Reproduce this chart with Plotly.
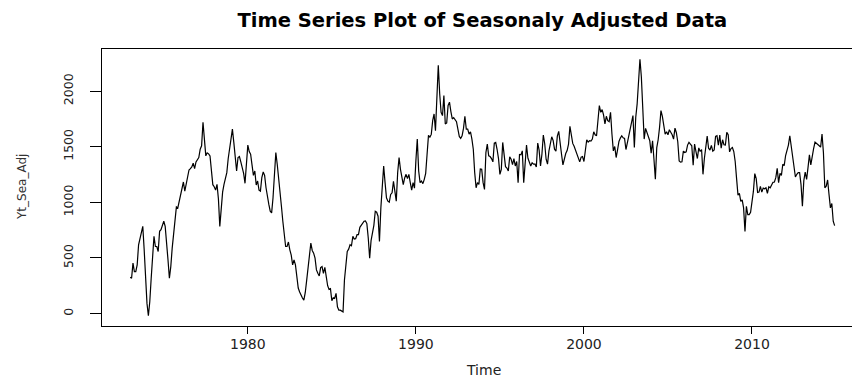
import numpy as np
import plotly.graph_objects as go

# Seasonally adjusted monthly series, Jan 1973 - Dec 2014 (one row per year)
start_year = 1973

values_1970s = [
    326, 317, 453, 377, 377, 437, 618, 679, 709, 784, 573, 332,        # 1973
    91, -20, 106, 317, 513, 694, 603, 603, 558, 739, 754, 800,         # 1974
    830, 784, 664, 483, 317, 422, 588, 694, 830, 959, 950, 1011,       # 1975
    1071, 1116, 1183, 1101, 1162, 1222, 1291, 1303, 1318, 1352, 1303, 1364,  # 1976
    1382, 1403, 1478, 1509, 1720, 1539, 1418, 1445, 1436, 1418, 1273, 1159,  # 1977
    1140, 1110, 1162, 1032, 784, 965, 1092, 1162, 1234, 1267, 1394, 1484,    # 1978
    1548, 1659, 1539, 1433, 1282, 1403, 1412, 1364, 1312, 1261, 1171, 1358,  # 1979
]

values_1980s = [
    1515, 1457, 1433, 1337, 1243, 1282, 1156, 1192, 1110, 1101, 1222, 1273,  # 1980
    1243, 1131, 1041, 981, 920, 905, 1041, 1222, 1448, 1343, 1222, 1146,     # 1981
    965, 830, 724, 603, 603, 643, 573, 525, 437, 483, 437, 296,              # 1982
    229, 193, 163, 139, 121, 187, 296, 416, 573, 634, 567, 543,              # 1983
    498, 392, 362, 338, 413, 422, 362, 416, 332, 250, 217, 223,              # 1984
    115, 142, 136, 181, 60, 30, 30, 21, 15, 302, 422, 558,                   # 1985
    579, 618, 609, 694, 670, 673, 709, 709, 775, 793, 815, 830,              # 1986
    833, 809, 679, 498, 655, 724, 793, 920, 911, 875, 649, 950,              # 1987
    1116, 1327, 1177, 1041, 1011, 1002, 1071, 1086, 1189, 1080, 1011, 1267,  # 1988
    1403, 1297, 1219, 1159, 1219, 1252, 1213, 1252, 1177, 1110, 1177, 1128,  # 1989
]

values_1990s = [
    1373, 1569, 1282, 1177, 1192, 1168, 1207, 1261, 1433, 1602, 1587, 1611,  # 1990
    1735, 1795, 1644, 1976, 2233, 1976, 1810, 1780, 1961, 1705, 1714, 1871,  # 1991
    1901, 1816, 1750, 1762, 1747, 1726, 1659, 1593, 1575, 1599, 1665, 1774,  # 1992
    1659, 1659, 1614, 1635, 1569, 1478, 1267, 1131, 1177, 1162, 1300, 1297,  # 1993
    1177, 1116, 1448, 1524, 1418, 1412, 1394, 1364, 1533, 1539, 1475, 1394,  # 1994
    1252, 1297, 1539, 1448, 1321, 1309, 1282, 1409, 1388, 1340, 1394, 1327,  # 1995
    1367, 1177, 1430, 1427, 1463, 1177, 1340, 1515, 1397, 1352, 1327, 1355,  # 1996
    1343, 1346, 1318, 1533, 1469, 1327, 1433, 1605, 1527, 1388, 1343, 1460,  # 1997
    1545, 1590, 1557, 1478, 1460, 1596, 1638, 1502, 1433, 1337, 1400, 1439,  # 1998
    1466, 1524, 1683, 1587, 1530, 1505, 1472, 1421, 1388, 1364, 1406, 1412,  # 1999
]

values_2000s = [
    1367, 1487, 1563, 1542, 1554, 1551, 1569, 1635, 1608, 1599, 1711, 1871,  # 2000
    1810, 1834, 1786, 1705, 1774, 1735, 1726, 1810, 1614, 1463, 1502, 1403,  # 2001
    1472, 1548, 1578, 1599, 1581, 1575, 1475, 1530, 1593, 1644, 1705, 1780,  # 2002
    1493, 1765, 1886, 2052, 2287, 2127, 1901, 1569, 1665, 1623, 1593, 1554,  # 2003
    1442, 1554, 1388, 1207, 1493, 1563, 1674, 1825, 1774, 1690, 1614, 1635,  # 2004
    1608, 1653, 1629, 1608, 1569, 1668, 1626, 1545, 1373, 1361, 1364, 1460,  # 2005
    1448, 1454, 1515, 1539, 1524, 1509, 1334, 1524, 1457, 1394, 1490, 1457,  # 2006
    1475, 1252, 1394, 1524, 1596, 1487, 1469, 1512, 1460, 1472, 1593, 1599,  # 2007
    1515, 1605, 1487, 1563, 1518, 1515, 1629, 1608, 1454, 1484, 1493, 1457,  # 2008
    1367, 1213, 1065, 1080, 1008, 1023, 950, 739, 965, 890, 890, 911,        # 2009
]

values_2010s = [
    1008, 1098, 1258, 1213, 1089, 1092, 1143, 1092, 1128, 1122, 1131, 1080,  # 2010
    1140, 1131, 1156, 1180, 1183, 1222, 1306, 1177, 1261, 1243, 1343, 1330,  # 2011
    1421, 1460, 1515, 1599, 1509, 1427, 1343, 1228, 1252, 1267, 1267, 1162,  # 2012
    965, 1195, 1273, 1207, 1312, 1427, 1337, 1430, 1484, 1542, 1533, 1521,   # 2013
    1509, 1496, 1614, 1448, 1131, 1146, 1201, 1071, 950, 990, 830, 790,      # 2014
]

x_ticks = [1980, 1990, 2000, 2010]
y_ticks = [0, 500, 1000, 1500, 2000]

values = np.array(values_1970s + values_1980s + values_1990s + values_2000s + values_2010s, dtype=float)
time = start_year + np.arange(len(values)) / 12.0

W, H = 852, 379
L, R, T, B = 102, 0, 49, 53

fig = go.Figure(
    go.Scatter(
        x=time, y=values, mode="lines",
        line=dict(color="black", width=1.2),
        hoverinfo="skip", showlegend=False,
    )
)

# Axis ranges padded 4% beyond the data, as R does
span_x = time[-1] - time[0]
x_lo = time[0] - 0.04 * span_x
x_hi_full = time[-1] + 0.04 * span_x
plot_w_full = 862.8 - L  # full plot width; right part falls outside the page
x_hi = x_lo + (x_hi_full - x_lo) * (W - L - R) / plot_w_full
span_y = values.max() - values.min()
y_lo = values.min() - 0.04 * span_y
y_hi = values.max() + 0.04 * span_y

fig.update_layout(
    width=W, height=H,
    margin=dict(l=L, r=R, t=T, b=B, pad=0),
    paper_bgcolor="white", plot_bgcolor="white",
    title=dict(
        text="<b>Time Series Plot of Seasonaly Adjusted Data</b>",
        x=482.3 / W, xanchor="center", xref="container",
        y=1 - 20 / H, yanchor="middle", yref="container",
        font=dict(family="DejaVu Sans", size=19.5, color="black"),
    ),
    xaxis=dict(
        range=[x_lo, x_hi],
        tickvals=x_ticks, ticktext=[str(v) for v in x_ticks],
        ticks="outside", ticklen=7, tickwidth=1, tickcolor="black",
        ticklabelstandoff=-2,
        showline=True, mirror=True, linecolor="black", linewidth=1,
        showgrid=False, zeroline=False,
        tickfont=dict(family="DejaVu Sans", size=14, color="#222"),
    ),
    yaxis=dict(
        range=[y_lo, y_hi],
        tickvals=y_ticks, ticktext=[str(v) for v in y_ticks],
        ticks="outside", ticklen=11, tickwidth=1, tickcolor="black",
        tickangle=-90, ticklabelstandoff=12,
        showline=True, mirror=False, linecolor="black", linewidth=1,
        showgrid=False, zeroline=False,
        tickfont=dict(family="DejaVu Sans", size=12.5, color="#222"),
    ),
    annotations=[
        dict(
            text="Time", showarrow=False,
            xref="paper", yref="paper",
            x=(483 - L) / (W - L - R), y=(H - B - 370) / (H - T - B),
            xanchor="center", yanchor="middle",
            font=dict(family="DejaVu Sans", size=14, color="#222"),
        ),
        dict(
            text="Yt_Sea_Adj", showarrow=False, textangle=-90,
            xref="paper", yref="paper",
            x=(22 - L) / (W - L - R), y=(H - B - 187) / (H - T - B),
            xanchor="center", yanchor="middle",
            font=dict(family="DejaVu Sans", size=12, color="#333"),
        ),
    ],
)

fig.write_html("out.html")
